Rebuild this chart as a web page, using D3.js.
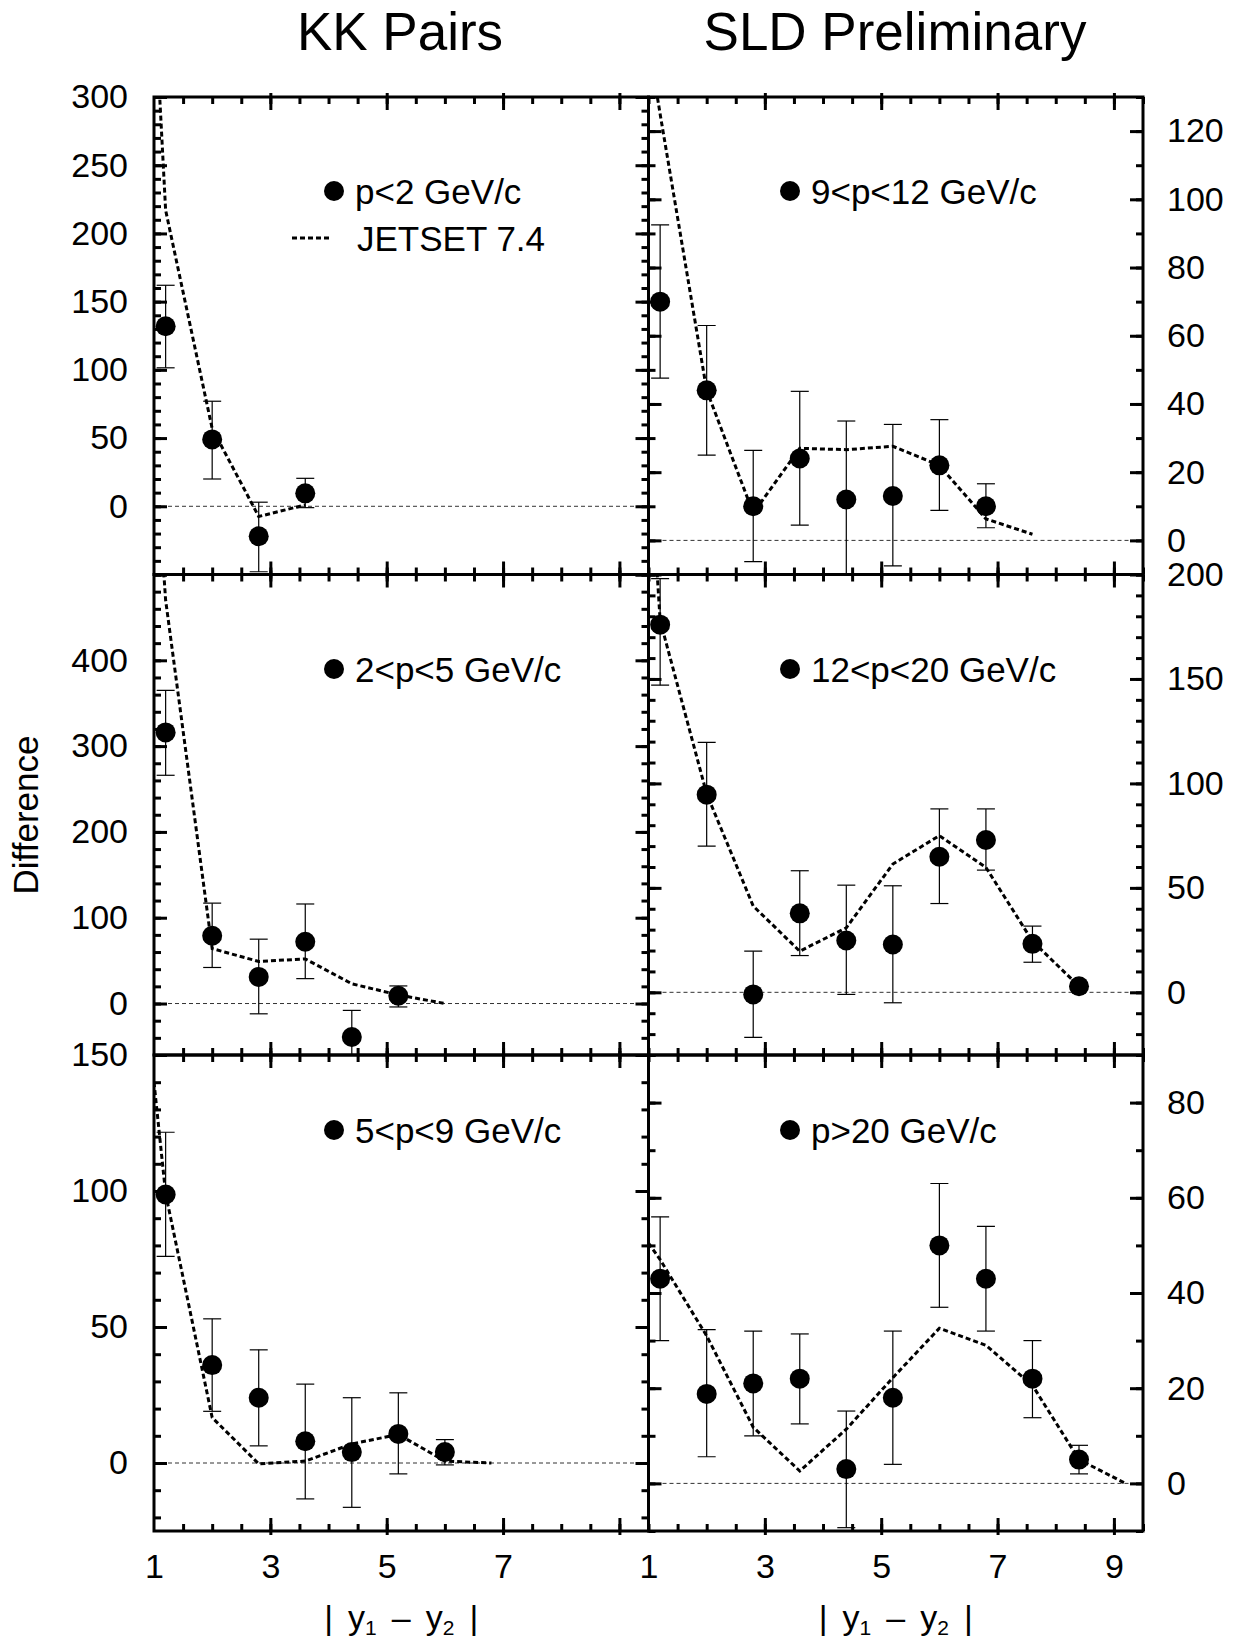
<!DOCTYPE html>
<html>
<head>
<meta charset="utf-8">
<script src="https://cdn.jsdelivr.net/npm/d3@7"></script>
<style>
  body { margin: 0; background: #fff; }
  text { font-family: "Liberation Sans", Arial, Helvetica, sans-serif; fill: #000; }
</style>
</head>
<body>
<svg id="chart" width="1243" height="1638"></svg>
<script>
// bin centres of the measured points and of the JETSET curve
var xBins = [1.2, 2.0, 2.8, 3.6, 4.4, 5.2, 6.0, 6.8, 7.6, 8.4];
var mcBins = [1.0, 1.2, 2.0, 2.8, 3.6, 4.4, 5.2, 6.0, 6.8, 7.6, 8.4, 9.2];

// p<2 GeV/c
var lowP = [132, 49, -22, 9.5];
var lowPLo = [101.5, 20, -48, -1];
var lowPHi = [162, 77, 3, 20.5];
var lowPMc = [380, 217, 57, -7.5, 1];

// 2<p<5 GeV/c
var p2to5 = [316, 79, 31, 72, -39, 9];
var p2to5Lo = [266, 42, -12, 29, -64, -4];
var p2to5Hi = [365, 117, 75, 116, -8, 20.5];
var p2to5Mc = [670, 470, 64, 49, 52, 23, 10, 0];

// 5<p<9 GeV/c
var p5to9 = [98.7, 36, 24, 8, 4, 10.7, 4];
var p5to9Lo = [76, 19, 6.3, -13.2, -16.3, -4, -0.7];
var p5to9Hi = [121.6, 53, 41.6, 29, 24, 25.8, 8.6];
var p5to9Mc = [140, 99, 16.7, -0.3, 0.7, 7, 10.5, 0.7, 0];

// 9<p<12 GeV/c
var p9to12 = [70, 44, 10, 24, 12, 13, 22, 10];
var p9to12Lo = [47.6, 25, -6.2, 4.5, -14, -7.5, 8.8, 3.7];
var p9to12Hi = [92.5, 63, 26.4, 43.7, 35, 34, 35.4, 16.6];
var p9to12Mc = [146, 125, 44, 8, 27, 26.6, 27.6, 22, 6.3, 1.8];

// 12<p<20 GeV/c
var p12to20 = [176, 94.6, -1, 37.8, 24.8, 22.9, 64.9, 72.9, 23.2, 2.9];
var p12to20Lo = [147, 70, -21.6, 17.6, -1, -5, 42.5, 58.5, 14.4, 1.5];
var p12to20Hi = [198, 119.6, 19.7, 58.2, 51.3, 51, 87.8, 87.8, 31.7, 4.5];
var p12to20Mc = [266, 178, 95, 41.3, 19.7, 30.9, 61.4, 75, 59.8, 24.5, 2.9];

// p>20 GeV/c
var highP = [43, 18.8, 21, 22, 3, 18, 50, 43, 22, 5];
var highPLo = [30, 5.6, 10, 12.5, -9.3, 4, 37, 32, 13.8, 2];
var highPHi = [56, 32.3, 32, 31.4, 15.2, 32, 63, 54, 30, 8];
var highPMc = [50.5, 47, 31, 11.8, 2.6, 11.4, 22.2, 32.6, 29, 20.6, 5, 0];

// tick labels
var ticksLowP = [0, 50, 100, 150, 200, 250, 300];
var ticksP2to5 = [0, 100, 200, 300, 400];
var ticksP5to9 = [0, 50, 100, 150];
var ticksP9to12 = [0, 20, 40, 60, 80, 100, 120];
var ticksP12to20 = [0, 50, 100, 150, 200];
var ticksHighP = [0, 20, 40, 60, 80];
var xTicksLeft = [1, 3, 5, 7];
var xTicksRight = [1, 3, 5, 7, 9];

var svg = d3.select("#chart");

// panel grid
var colX = [[154, 648.5], [648.5, 1143]];
var rowY = [[97, 574.5], [574.5, 1055], [1055, 1531]];

var panels = [
  { col: 0, row: 0, name: "p<2 GeV/c", domain: [-50, 300], major: 50, minor: 10, labels: ticksLowP,
    val: lowP, lo: lowPLo, hi: lowPHi, mc: lowPMc, leg: [334, 191] },
  { col: 0, row: 1, name: "2<p<5 GeV/c", domain: [-60, 500], major: 100, minor: 20, labels: ticksP2to5,
    val: p2to5, lo: p2to5Lo, hi: p2to5Hi, mc: p2to5Mc, leg: [334, 669] },
  { col: 0, row: 2, name: "5<p<9 GeV/c", domain: [-25, 150], major: 50, minor: 10, labels: ticksP5to9,
    val: p5to9, lo: p5to9Lo, hi: p5to9Hi, mc: p5to9Mc, leg: [334, 1130] },
  { col: 1, row: 0, name: "9<p<12 GeV/c", domain: [-10, 130], major: 20, minor: 10, labels: ticksP9to12,
    val: p9to12, lo: p9to12Lo, hi: p9to12Hi, mc: p9to12Mc, leg: [790, 191] },
  { col: 1, row: 1, name: "12<p<20 GeV/c", domain: [-30, 200], major: 50, minor: 10, labels: ticksP12to20,
    val: p12to20, lo: p12to20Lo, hi: p12to20Hi, mc: p12to20Mc, leg: [790, 669] },
  { col: 1, row: 2, name: "p>20 GeV/c", domain: [-10, 90], major: 20, minor: 10, labels: ticksHighP,
    val: highP, lo: highPLo, hi: highPHi, mc: highPMc, leg: [790, 1130] }
];

function stepValues(lo, hi, step) {
  var out = [];
  for (var v = Math.ceil(lo / step) * step; v <= hi + 1e-9; v += step) out.push(+v.toFixed(4));
  return out;
}

function tickGroup(axis, tx, ty) {
  var g = svg.append("g").attr("transform", "translate(" + tx + "," + ty + ")").call(axis);
  g.select(".domain").remove();
  g.selectAll("line").attr("stroke", "#000").attr("stroke-width", 3);
  return g;
}

panels.forEach(function (p, i) {
  var x0 = colX[p.col][0], x1 = colX[p.col][1];
  var y0 = rowY[p.row][0], y1 = rowY[p.row][1];

  var x = d3.scaleLinear().domain([1, 9.5]).range([x0, x1]);
  var y = d3.scaleLinear().domain(p.domain).range([y1, y0]);

  svg.append("clipPath").attr("id", "clip" + i)
    .append("rect")
    .attr("x", x0).attr("y", y0)
    .attr("width", x1 - x0).attr("height", y1 - y0);

  var g = svg.append("g").attr("clip-path", "url(#clip" + i + ")");

  // zero reference line
  g.append("line")
    .attr("x1", x0).attr("x2", x1)
    .attr("y1", y(0)).attr("y2", y(0))
    .attr("stroke", "#333")
    .attr("stroke-width", 1)
    .attr("stroke-dasharray", "4,3");

  // JETSET curve
  var mcPts = p.mc.map(function (v, k) { return [mcBins[k], v]; });
  g.append("path")
    .datum(mcPts)
    .attr("d", d3.line()
      .x(function (d) { return x(d[0]); })
      .y(function (d) { return y(d[1]); }))
    .attr("fill", "none")
    .attr("stroke", "#000")
    .attr("stroke-width", 3)
    .attr("stroke-dasharray", "5,3");

  // data with error bars
  var pts = p.val.map(function (v, k) {
    return { x: xBins[k], v: v, lo: p.lo[k], hi: p.hi[k] };
  });

  var eb = g.selectAll(".eb").data(pts).enter().append("g").attr("class", "eb");
  eb.append("line")
    .attr("x1", function (d) { return x(d.x); })
    .attr("x2", function (d) { return x(d.x); })
    .attr("y1", function (d) { return y(d.lo); })
    .attr("y2", function (d) { return y(d.hi); });
  ["lo", "hi"].forEach(function (key) {
    eb.append("line")
      .attr("x1", function (d) { return x(d.x) - 9; })
      .attr("x2", function (d) { return x(d.x) + 9; })
      .attr("y1", function (d) { return y(d[key]); })
      .attr("y2", function (d) { return y(d[key]); });
  });
  eb.selectAll("line").attr("stroke", "#000").attr("stroke-width", 1.2);

  g.selectAll("circle").data(pts).enter().append("circle")
    .attr("cx", function (d) { return x(d.x); })
    .attr("cy", function (d) { return y(d.v); })
    .attr("r", 10)
    .attr("fill", "#000");

  // frame
  svg.append("rect")
    .attr("x", x0).attr("y", y0)
    .attr("width", x1 - x0).attr("height", y1 - y0)
    .attr("fill", "none")
    .attr("stroke", "#000")
    .attr("stroke-width", 3);

  // y ticks, inward on both sides
  var yMinor = stepValues(p.domain[0], p.domain[1], p.minor);
  var yMajor = stepValues(p.domain[0], p.domain[1], p.major);
  tickGroup(d3.axisLeft(y).tickValues(yMinor).tickSize(-7).tickFormat(""), x0, 0);
  tickGroup(d3.axisLeft(y).tickValues(yMajor).tickSize(-13).tickFormat(""), x0, 0);
  tickGroup(d3.axisRight(y).tickValues(yMinor).tickSize(-7).tickFormat(""), x1, 0);
  tickGroup(d3.axisRight(y).tickValues(yMajor).tickSize(-13).tickFormat(""), x1, 0);

  // x ticks, inward top and bottom, majors poke out a little
  var xMinor = stepValues(1.5, 9.5, 0.5);
  var xMajor = [3, 5, 7, 9];
  tickGroup(d3.axisBottom(x).tickValues(xMinor).tickSize(-7).tickFormat(""), 0, y1);
  tickGroup(d3.axisBottom(x).tickValues(xMajor).tickSize(-13).tickFormat(""), 0, y1)
    .selectAll("line").attr("y1", 4);
  tickGroup(d3.axisTop(x).tickValues(xMinor).tickSize(-7).tickFormat(""), 0, y0);
  tickGroup(d3.axisTop(x).tickValues(xMajor).tickSize(-13).tickFormat(""), 0, y0)
    .selectAll("line").attr("y1", -4);

  // y tick labels
  var yLab = p.col === 0
    ? d3.axisLeft(y).tickValues(p.labels).tickSize(0).tickPadding(26)
    : d3.axisRight(y).tickValues(p.labels).tickSize(0).tickPadding(24);
  var gl = svg.append("g")
    .attr("transform", "translate(" + (p.col === 0 ? x0 : x1) + ",0)")
    .call(yLab);
  gl.select(".domain").remove();
  gl.attr("font-size", 34).attr("font-family", null);

  // x tick labels on the bottom row
  if (p.row === 2) {
    var gx = svg.append("g")
      .attr("transform", "translate(0," + y1 + ")")
      .call(d3.axisBottom(x).tickValues(p.col === 0 ? xTicksLeft : xTicksRight).tickSize(0).tickPadding(23));
    gx.select(".domain").remove();
    gx.attr("font-size", 34).attr("font-family", null);

    var lab = svg.append("text")
      .attr("x", (x0 + x1) / 2)
      .attr("y", 1629)
      .attr("text-anchor", "middle")
      .attr("font-size", 34);
    lab.append("tspan").text("|");
    lab.append("tspan").attr("dx", 15).text("y");
    lab.append("tspan").attr("font-size", 21).attr("dy", 6).text("1");
    lab.append("tspan").attr("dy", -6).attr("dx", 15).text("\u2013");
    lab.append("tspan").attr("dx", 15).text("y");
    lab.append("tspan").attr("font-size", 21).attr("dy", 6).text("2");
    lab.append("tspan").attr("dy", -6).attr("dx", 15).text("|");
  }

  // legend
  svg.append("circle")
    .attr("cx", p.leg[0]).attr("cy", p.leg[1])
    .attr("r", 10).attr("fill", "#000");
  svg.append("text")
    .attr("x", p.leg[0] + 21).attr("y", p.leg[1] + 12.5)
    .attr("font-size", 35)
    .text(p.name);
});

// JETSET legend entry
svg.append("line")
  .attr("x1", 292).attr("x2", 332)
  .attr("y1", 238).attr("y2", 238)
  .attr("stroke", "#000")
  .attr("stroke-width", 3)
  .attr("stroke-dasharray", "5,3");
svg.append("text")
  .attr("x", 357).attr("y", 250.5)
  .attr("font-size", 35)
  .text("JETSET 7.4");

// titles
svg.append("text").attr("x", 400).attr("y", 50)
  .attr("text-anchor", "middle").attr("font-size", 53).text("KK Pairs");
svg.append("text").attr("x", 895).attr("y", 50)
  .attr("text-anchor", "middle").attr("font-size", 53).text("SLD Preliminary");

// y axis title
svg.append("text")
  .attr("transform", "translate(38,815) rotate(-90)")
  .attr("text-anchor", "middle")
  .attr("font-size", 35)
  .text("Difference");
</script>
</body>
</html>
